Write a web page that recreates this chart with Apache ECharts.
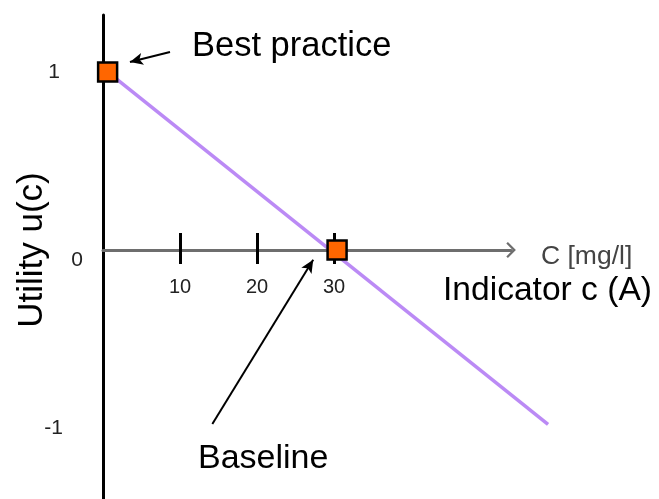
<!DOCTYPE html>
<html>
<head>
<meta charset="utf-8">
<script src="https://cdn.jsdelivr.net/npm/echarts@6/dist/echarts.min.js"></script>
<style>html,body{margin:0;padding:0;background:#fff}#c{width:659px;height:499px}</style>
</head>
<body>
<div id="c"></div>
<script>
// ---- data ----
const xTicks = [10, 20, 30];               // x tick labels (mg/l)
const yTicks = [-1, 0, 1];                 // y tick labels (utility)
const utilityLine = [[0.6, 1], [57.8, -0.98]];   // utility function u(c)
const keyPoints = [[0.6, 1], [30.4, 0]];          // best practice, baseline
const bestArrow = [[8.7, 1.112], [3.5, 1.056]];   // annotation arrow "Best practice"
const baseArrow = [[14.2, -0.978], [27.3, -0.056]]; // annotation arrow "Baseline"
const xRangeData = [0, 58];   // extent of the plotting area
const xRangeAxis = [0, 53];   // extent of the drawn x axis (arrow tip)
const yRange = [-1.4, 1.32];

const FONT = 'Arial, "Liberation Sans", sans-serif';
const chart = echarts.init(document.getElementById('c'), null, {renderer: 'canvas'});

const chevron = 'path://M0,8 L8,0 L16,8 L14.4,9.6 L8,3.2 L1.6,9.6 Z';
const PX = 7.7; // pixels per mg/l
const L = 103;
const rightData = 659 - L - PX * (xRangeData[1] - xRangeData[0]);
const rightAxis = 659 - L - PX * (xRangeAxis[1] - xRangeAxis[0]);

const option = {
  animation: false,
  grid: [
    {left: L, right: rightData, top: 15, bottom: 0, outerBoundsMode: 'none', containLabel: false},
    {left: L, right: rightAxis, top: 15, bottom: 249, outerBoundsMode: 'none', containLabel: false}
  ],
  xAxis: [{
    gridIndex: 0, type: 'value', min: xRangeData[0], max: xRangeData[1],
    show: false, axisLine: {show: false}, axisTick: {show: false}, axisLabel: {show: false}, splitLine: {show: false}
  }, {
    gridIndex: 1, type: 'value', min: xRangeAxis[0], max: xRangeAxis[1], position: 'bottom',
    axisLine: {show: true, onZero: false, lineStyle: {color: '#6e6e6e', width: 3},
      symbol: ['none', chevron], symbolSize: [16, 10], symbolOffset: [0, 0]},
    axisTick: {show: true, inside: false, length: 14, customValues: xTicks,
      lineStyle: {color: '#000', width: 3}},
    axisLabel: {show: true, customValues: xTicks, margin: 27, fontSize: 20,
      color: '#222', fontFamily: FONT},
    splitLine: {show: false}
  }, {
    gridIndex: 1, type: 'value', min: xRangeAxis[0], max: xRangeAxis[1], position: 'bottom',
    axisLine: {show: false, onZero: false},
    axisTick: {show: true, inside: true, length: 17, customValues: xTicks,
      lineStyle: {color: '#000', width: 3}},
    axisLabel: {show: false},
    splitLine: {show: false}
  }],
  yAxis: [{
    gridIndex: 0, type: 'value', min: yRange[0], max: yRange[1],
    axisLine: {show: true, onZero: false, lineStyle: {color: '#000', width: 3}},
    axisTick: {show: false},
    splitLine: {show: false},
    axisLabel: {
      show: true, customValues: yTicks, margin: 20, fontSize: 21, color: '#222', fontFamily: FONT,
      formatter: function (v) {
        v = Number(v);
        if (v === 1) return '{a|1}';
        if (v === 0) return '{b|0}';
        return '{c|-1}';
      },
      rich: {
        a: {fontSize: 21, fontFamily: FONT, color: '#222', padding: [0, 23, 0, 0]},
        b: {fontSize: 21, fontFamily: FONT, color: '#222', padding: [20, 0, 0, 0]},
        c: {fontSize: 21, fontFamily: FONT, color: '#222', padding: [0, 20, 0, 0]}
      }
    }
  }, {
    gridIndex: 1, type: 'value', min: 0, max: 1, show: false,
    axisLine: {show: false}, axisTick: {show: false}, axisLabel: {show: false}, splitLine: {show: false}
  }],
  series: [{
    type: 'line', xAxisIndex: 0, yAxisIndex: 0, data: utilityLine, showSymbol: false, symbol: 'none',
    lineStyle: {color: '#bb8af5', width: 3.5}, z: 2, silent: true
  }, {
    type: 'scatter', xAxisIndex: 0, yAxisIndex: 0, data: keyPoints, symbol: 'rect', symbolSize: 19, z: 5, silent: true,
    itemStyle: {color: '#ff6600', borderColor: '#000', borderWidth: 2.5, opacity: 1},
    markLine: {
      silent: true, symbol: ['none', 'arrow'], symbolSize: [9, 13], precision: 4,
      label: {show: false},
      lineStyle: {color: '#000', width: 2, type: 'solid'},
      emphasis: {disabled: true},
      data: [
        [{coord: bestArrow[0]}, {coord: bestArrow[1]}],
        [{coord: baseArrow[0]}, {coord: baseArrow[1]}]
      ]
    }
  }],
  graphic: [
    {type: 'text', left: 192, top: 29, style: {text: 'Best practice', fontSize: 34.5, fontFamily: FONT, fill: '#000'}},
    {type: 'text', left: 443, top: 274, style: {text: 'Indicator c (A)', fontSize: 33.6, fontFamily: FONT, fill: '#000'}},
    {type: 'text', left: 541, top: 243, style: {text: 'C [mg/l]', fontSize: 26.5, fontFamily: FONT, fill: '#444'}},
    {type: 'text', left: 198, top: 442, style: {text: 'Baseline', fontSize: 34, fontFamily: FONT, fill: '#000'}},
    {type: 'text', x: 32, y: 250, rotation: Math.PI / 2,
      style: {text: 'Utility u(c)', fontSize: 35, fontFamily: FONT, fill: '#000', align: 'center', verticalAlign: 'middle'}}
  ]
};
chart.setOption(option);
</script>
</body>
</html>
